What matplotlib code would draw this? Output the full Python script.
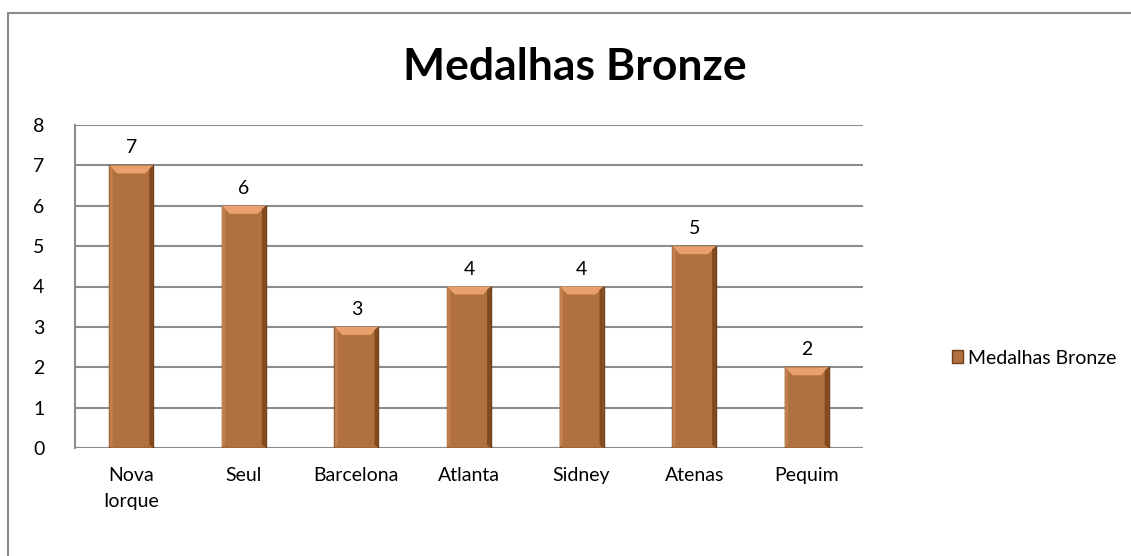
import matplotlib.pyplot as plt
from matplotlib.patches import Rectangle, Polygon
import numpy as np

cidades = ['Nova\nIorque', 'Seul', 'Barcelona', 'Atlanta', 'Sidney', 'Atenas', 'Pequim']
bronze = [7, 6, 3, 4, 4, 5, 2]
serie = 'Medalhas Bronze'

plt.rcParams['font.family'] = ['Lato', 'DejaVu Sans']

fig = plt.figure(figsize=(11.31, 5.56), dpi=100)
W, H = 1131, 556

# moldura do grafico (cortada a direita e em baixo como no original)
fig.add_artist(Rectangle((8 / W, -0.1), 1.2, (556 - 13) / H + 0.1,
                         transform=fig.transFigure, fill=False,
                         edgecolor='#8c8c8c', linewidth=1.5))

ax = fig.add_axes([75 / W, (H - 448) / H, (863 - 75) / W, (448 - 125) / H])
x = np.arange(len(cidades))
largura = 0.39
ax.bar(x, bronze, width=largura, color='#b0703f',
       edgecolor='#6e3f1c', linewidth=1.0, zorder=3)

# efeito de bisel no topo e nos lados de cada barra
for xi, v in zip(x, bronze):
    h = 0.2
    ax.add_patch(Polygon([[xi - largura / 2, v], [xi + largura / 2, v],
                          [xi + largura / 2 - 0.07, v - h], [xi - largura / 2 + 0.07, v - h]],
                         closed=True, facecolor='#e9a06c', edgecolor='none', zorder=4))
    ax.add_patch(Polygon([[xi + largura / 2, v], [xi + largura / 2, 0],
                          [xi + largura / 2 - 0.035, 0.08], [xi + largura / 2 - 0.035, v - 0.08]],
                         closed=True, facecolor='#83491f', edgecolor='none', zorder=4))
    ax.add_patch(Polygon([[xi - largura / 2, v], [xi - largura / 2, 0],
                          [xi - largura / 2 + 0.03, 0.08], [xi - largura / 2 + 0.03, v - 0.08]],
                         closed=True, facecolor='#c07f4c', edgecolor='none', zorder=4))
    ax.text(xi, v + 0.22, str(v), ha='center', va='bottom', fontsize=14, zorder=5)

ax.set_xlim(-0.5, len(cidades) - 0.5)
ax.set_ylim(0, 8)
ax.set_yticks(range(0, 9))
ax.yaxis.grid(True, color='#8c8c8c', linewidth=1.5, zorder=0)
ax.set_axisbelow(True)
for s in ['top', 'right', 'bottom']:
    ax.spines[s].set_visible(False)
ax.spines['left'].set_color('#8c8c8c')
ax.spines['left'].set_linewidth(1.5)
ax.tick_params(axis='y', length=0, labelsize=14, pad=22)
ax.tick_params(axis='x', length=0, labelsize=14, pad=14)
ax.set_xticks(x)
ax.set_xticklabels(cidades, linespacing=1.6, va='top')
ax.axhline(0, color='#8c8c8c', linewidth=1.5, zorder=1)

fig.text(575 / W, 1 - 67 / H, serie, ha='center', va='center',
         fontsize=32, fontweight='bold')

fig.legend([Rectangle((0, 0), 1, 1, facecolor='#b0703f', edgecolor='#6e3f1c')],
           [serie], loc='center left', bbox_to_anchor=(938 / W, 1 - 358 / H),
           frameon=False, fontsize=14, handlelength=0.6, handleheight=0.6,
           handletextpad=0.25, borderpad=0.2)

fig.savefig('out.png', dpi=100, facecolor='white')
